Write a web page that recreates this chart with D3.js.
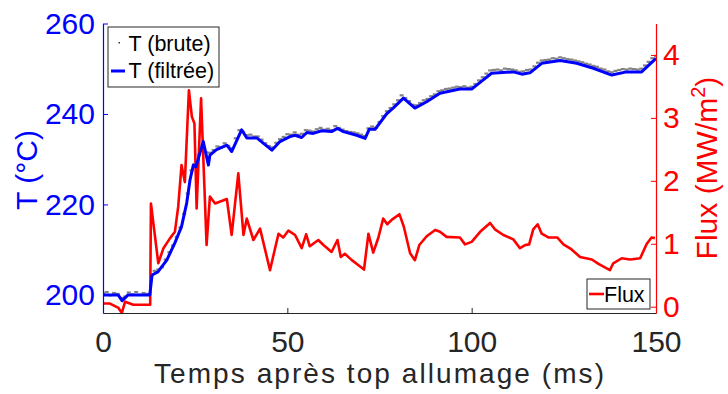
<!DOCTYPE html>
<html><head><meta charset="utf-8">
<script src="https://cdn.jsdelivr.net/npm/d3@7"></script>
<style>body{margin:0;background:#fff}svg{display:block}text{font-family:"Liberation Sans",Arial,Helvetica,sans-serif}</style>
</head><body>
<svg id="c" width="728" height="394"></svg>
<script>
// ---- data ----
const filtT = [0,4.1,5.2,6.8,12.7,13.3,14.9,17.3,19.5,21.3,22.7,23.6,24.5,25.2,27.2,28.6,29.0,30.8,33.6,34.9,37.6,39.0,41.7,45.8,48.0,50.7,52.1,53.9,55.3,57.0,59.3,62.0,63.6,65.2,68.8,71.1,72.2,73.8,77.0,78.7,81.5,84.6,87.8,91.4,96.8,100.0,102.3,105.4,111.3,113.6,115.8,119.0,124.0,128.5,133.0,138.0,142.0,146.1,150.0];
const filtV = [200.0,200.0,198.7,200.0,200.0,204.4,205.1,207.7,211.5,215.1,220.3,225.4,228.7,228.3,233.9,228.7,230.9,232.1,233.1,231.7,236.5,234.7,234.7,232.0,233.9,235.0,235.3,234.8,235.9,235.7,236.3,236.1,236.8,236.1,235.3,234.6,236.6,236.6,240.1,241.3,243.5,241.3,242.7,244.6,245.5,245.5,247.0,249.0,249.3,248.8,249.1,251.2,251.8,251.2,250.1,248.6,249.3,249.3,252.3];
const bruteV = [200.3,200.6,199.9,200.4,200.2,199.3,199.6,200.5,200.1,200.6,200.0,200.4,200.2,203.5,205.3,205.6,206.1,207.8,209.4,210.9,212.8,214.9,217.9,222.4,227.5,228.9,231.0,233.2,231.5,231.4,232.0,232.8,232.6,233.5,232.9,232.4,234.6,236.4,236.0,235.3,235.4,235.0,235.0,234.3,233.5,232.9,232.6,233.6,234.4,234.9,235.5,235.4,235.9,235.4,235.6,236.4,236.3,236.1,236.6,236.9,236.5,236.7,236.4,237.3,236.9,236.5,236.2,236.0,235.9,235.7,235.4,235.1,236.8,237.2,236.9,238.2,239.5,240.6,241.3,242.1,243.0,244.1,243.5,242.8,242.0,241.9,242.4,243.0,243.3,243.9,244.3,245.0,245.2,245.5,245.6,245.8,246.0,245.9,246.1,245.8,246.0,246.6,247.4,248.1,248.9,249.6,249.7,249.8,249.6,250.0,249.9,249.8,249.6,249.3,249.4,249.7,249.8,250.5,251.3,251.8,251.9,252.0,252.3,252.2,252.5,252.3,252.1,252.0,251.8,251.6,251.4,251.1,250.9,250.6,250.4,250.0,249.8,249.4,249.2,249.5,249.7,249.9,249.8,250.0,249.9,249.8,250.0,250.7,251.5,252.3,252.8];
const fluxT = [0,1.9,4.2,5.1,6.0,8.2,12.3,12.8,13.0,15.0,16.4,18.2,19.5,20.4,21.3,22.2,23.3,24.1,24.8,25.4,26.6,28.1,29.0,30.4,33.6,34.9,36.7,38.1,39.0,40.8,42.6,45.3,47.6,48.9,50.3,52.1,53.9,55.1,56.1,58.4,59.8,62.0,63.6,64.5,65.6,67.5,69.3,70.8,72.0,73.3,74.7,76.0,77.1,78.3,80.4,81.6,83.3,84.6,85.8,87.8,90.1,91.4,93.2,96.8,98.2,100.0,102.3,105.0,106.3,108.6,111.3,113.1,114.5,115.6,116.7,117.9,119.0,120.8,123.2,124.9,127.1,129.4,132.6,134.4,137.5,138.4,140.7,143.0,145.7,147.5,148.8,149.7];
const fluxV = [0.05,0.05,-0.02,-0.1,0.08,0.03,0.03,0.03,1.64,0.69,0.93,1.09,1.19,1.59,2.25,1.98,3.44,3.02,2.91,1.56,3.31,0.98,1.75,1.64,1.71,1.14,2.12,1.14,1.40,1.06,1.24,0.58,1.16,1.10,1.21,1.14,0.93,1.15,0.96,1.06,0.98,0.87,1.06,0.79,0.84,0.74,0.66,0.59,1.16,0.86,1.10,1.40,1.31,1.38,1.47,1.27,0.85,0.74,0.98,1.12,1.22,1.19,1.11,1.10,0.99,1.03,1.19,1.33,1.23,1.14,1.07,0.93,0.98,0.99,1.23,1.31,1.16,1.10,1.10,0.99,0.91,0.79,0.75,0.68,0.58,0.69,0.77,0.75,0.77,1.00,1.10,1.09];
const xTicks = [0,50,100,150];
const tTicks = [200,220,240,260];
const fTicks = [0,1,2,3,4];
const legendT = ["T (brute)","T (filtrée)"];
const legendF = ["Flux"];

// ---- chart ----
const svg = d3.select("#c");
const L=103, R=656, T=23.5, B=313;
const x = d3.scaleLinear().domain([0,150]).range([L,R]);
const yT = d3.scaleLinear().domain([196,260]).range([B,T]);
const yF = d3.scaleLinear().domain([-0.1,4.5]).range([B,T]);
svg.append("clipPath").attr("id","pc").append("rect").attr("x",L).attr("y",T).attr("width",R-L).attr("height",B-T);
const g = svg.append("g").attr("clip-path","url(#pc)");

// flux
g.append("path").datum(fluxT.map((t,i)=>[t,fluxV[i]]))
 .attr("d",d3.line().x(d=>x(d[0])).y(d=>yF(d[1])))
 .attr("fill","none").attr("stroke","#ff0000").attr("stroke-width",2.6).attr("stroke-linejoin","round");
// brute
g.selectAll("rect.br").data(bruteV).join("rect").attr("class","br")
 .attr("x",(d,i)=>x(i)-2).attr("y",d=>yT(d)-1.2).attr("width",4).attr("height",2.2)
 .attr("fill","#6e6e6e").attr("opacity",0.85);
// filtered
g.append("path").datum(filtT.map((t,i)=>[t,filtV[i]]))
 .attr("d",d3.line().x(d=>x(d[0])).y(d=>yT(d[1])))
 .attr("fill","none").attr("stroke","#0000ff").attr("stroke-width",3).attr("stroke-linejoin","round");

// axes
const fs = 30;
const ax = svg.append("g").attr("transform",`translate(0,${B})`)
 .call(d3.axisBottom(x).tickValues(xTicks).tickSizeInner(-5).tickSizeOuter(0));
ax.select(".domain").attr("stroke","#262626").attr("stroke-width",1.2);
ax.selectAll(".tick line").attr("stroke","#262626");
ax.selectAll("text").attr("font-size",fs).attr("fill","#262626").attr("dy","0.72em").attr("y",17);

const al = svg.append("g").attr("transform",`translate(${L},0)`)
 .call(d3.axisLeft(yT).tickValues(tTicks).tickSizeInner(-5).tickSizeOuter(0));
al.select(".domain").attr("stroke","#0000ff").attr("stroke-width",1.2);
al.selectAll(".tick line").attr("stroke","#0000ff");
al.selectAll("text").attr("font-size",fs).attr("fill","#0000ff").attr("x",-8);

const ar = svg.append("g").attr("transform",`translate(${R},0)`)
 .call(d3.axisRight(yF).tickValues(fTicks).tickFormat(d3.format("d")).tickSizeInner(-5).tickSizeOuter(0));
ar.select(".domain").attr("stroke","#ff0000").attr("stroke-width",1.2);
ar.selectAll(".tick line").attr("stroke","#ff0000");
ar.selectAll("text").attr("font-size",fs).attr("fill","#ff0000").attr("x",7);

// labels
svg.append("text").attr("x",379).attr("y",383).attr("text-anchor","middle").attr("font-size",28)
 .attr("textLength",450).attr("lengthAdjust","spacing").attr("fill","#262626").text("Temps après top allumage (ms)");
svg.append("text").attr("transform","translate(37,170) rotate(-90)").attr("text-anchor","middle").attr("font-size",fs).attr("fill","#0000ff").text("T (°C)");
const rl = svg.append("text").attr("transform","translate(717,168) rotate(-90)").attr("text-anchor","middle").attr("font-size",fs).attr("fill","#ff0000");
rl.append("tspan").text("Flux (MW/m");
rl.append("tspan").attr("font-size",20).attr("dy",-12).text("2");
rl.append("tspan").attr("dy",12).text(")");

// legend T
const lg = svg.append("g");
lg.append("rect").attr("x",108).attr("y",27).attr("width",111).attr("height",60).attr("fill","#fff").attr("stroke","#262626").attr("stroke-width",1);
lg.append("rect").attr("x",118.5).attr("y",42).attr("width",1.5).attr("height",1.5).attr("fill","#333");
lg.append("line").attr("x1",111).attr("x2",125).attr("y1",71).attr("y2",71).attr("stroke","#0000ff").attr("stroke-width",3);
lg.selectAll("text").data(legendT).join("text").attr("x",128.5).attr("y",(d,i)=>51+i*27)
 .attr("font-size",21.5).attr("fill","#000").text(d=>d);
// legend Flux
const lf = svg.append("g");
lf.append("rect").attr("x",587).attr("y",279).attr("width",63).attr("height",30).attr("fill","#fff").attr("stroke","#262626").attr("stroke-width",1);
lf.append("line").attr("x1",589).attr("x2",604).attr("y1",294).attr("y2",294).attr("stroke","#ff0000").attr("stroke-width",2.6);
lf.selectAll("text").data(legendF).join("text").attr("x",604).attr("y",302).attr("font-size",21.5).attr("fill","#000").text(d=>d);
</script>
</body></html>
